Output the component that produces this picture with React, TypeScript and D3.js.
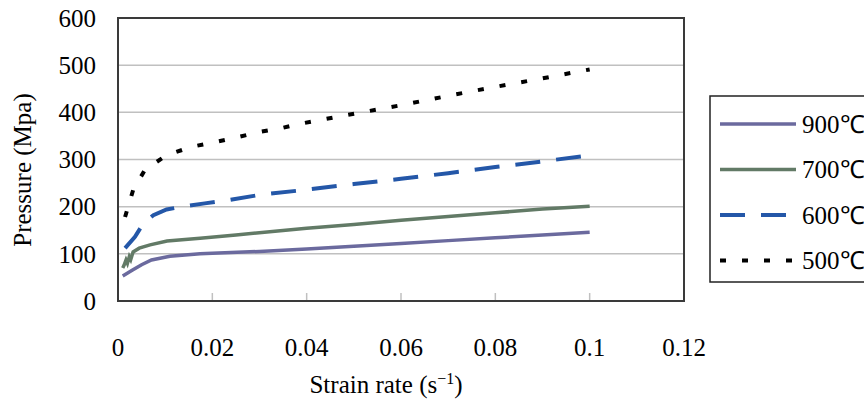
import React from "react";
import * as d3 from "d3";

const xTicks = [0, 0.02, 0.04, 0.06, 0.08, 0.1, 0.12];
const yTicks = [0, 100, 200, 300, 400, 500, 600];

const s900: [number, number][] = [
  [0.001, 53], [0.003, 65], [0.005, 77], [0.0071, 87], [0.011, 95], [0.0174, 100],
  [0.02, 101], [0.03, 105], [0.04, 110], [0.05, 116], [0.06, 122], [0.07, 128],
  [0.08, 134], [0.09, 140], [0.1, 146],
];
const s700: [number, number][] = [
  [0.001, 70], [0.0013, 76], [0.0017, 87], [0.002, 80], [0.0024, 94], [0.0027, 88],
  [0.0032, 104], [0.0045, 112], [0.0068, 119], [0.0104, 127], [0.0174, 133],
  [0.025, 140], [0.0344, 149], [0.04, 154], [0.05, 162], [0.06, 171], [0.07, 179],
  [0.08, 187], [0.09, 195], [0.1, 201],
];
const s600: [number, number][] = [
  [0.0015, 112], [0.0036, 136], [0.0054, 165], [0.0075, 182], [0.0103, 194],
  [0.0142, 201], [0.0184, 207], [0.023, 213], [0.03, 225], [0.04, 236], [0.05, 248],
  [0.06, 259], [0.07, 271], [0.08, 284], [0.09, 296], [0.1, 309],
];
const s500: [number, number][] = [
  [0.0015, 178], [0.002, 195], [0.0032, 235], [0.0057, 278], [0.0103, 309],
  [0.0156, 327], [0.0202, 336], [0.0252, 347], [0.0298, 358], [0.0344, 366],
  [0.0382, 375], [0.0483, 394], [0.06, 415], [0.0715, 438], [0.08, 454],
  [0.09, 472], [0.1, 491],
];

const seriesNames = ["900℃", "700℃", "600℃", "500℃"];
const seriesData = [s900, s700, s600, s500];
const seriesColors = ["#6b6a9e", "#627a66", "#2457a8", "#000000"];
const seriesDash = ["", "", "25 16", "6 16"];
const seriesWidth = [3.5, 3.5, 4, 4];

export default function App() {
  const W = 864, H = 403;
  const x = d3.scaleLinear().domain([0, 0.12]).range([118, 684]);
  const y = d3.scaleLinear().domain([0, 600]).range([301, 18]);
  const line = d3.line<[number, number]>().x(d => x(d[0])).y(d => y(d[1]));
  const font = "'Liberation Serif', 'Times New Roman', serif";

  return (
    <svg width={W} height={H} style={{ position: "absolute", left: 0, top: 0, background: "#fff" }}
      fontFamily={font}>
      <rect x={0} y={0} width={W} height={H} fill="#fff" />
      {/* gridlines */}
      {yTicks.filter(t => t > 0 && t < 600).map(t => (
        <line key={t} x1={x(0)} x2={x(0.12)} y1={y(t)} y2={y(t)} stroke="#c0c0c0" strokeWidth={1.5} />
      ))}
      {/* x ticks */}
      {xTicks.filter(t => t > 0 && t < 0.12).map(t => (
        <line key={t} x1={x(t)} x2={x(t)} y1={y(0)} y2={y(0) - 8} stroke="#c0c0c0" strokeWidth={1.5} />
      ))}
      {/* plot border */}
      <rect x={x(0)} y={y(600)} width={x(0.12) - x(0)} height={y(0) - y(600)} fill="none"
        stroke="#3a3a3a" strokeWidth={2} />
      {/* series */}
      {seriesData.map((d, i) => (
        <path key={i} d={line(d) || ""} fill="none" stroke={seriesColors[i]}
          strokeWidth={seriesWidth[i]} strokeDasharray={seriesDash[i]} />
      ))}
      {/* y tick labels */}
      {yTicks.map(t => (
        <text key={t} x={96} y={y(t)} dy="0.35em" textAnchor="end" fontSize={25} fill="#000">{t}</text>
      ))}
      {/* x tick labels */}
      {xTicks.map(t => (
        <text key={t} x={x(t)} y={356} textAnchor="middle" fontSize={25} fill="#000">{String(t)}</text>
      ))}
      {/* axis titles */}
      <text x={386} y={393} textAnchor="middle" fontSize={25} fill="#000">
        Strain rate (s<tspan dy={-9} fontSize={16}>−1</tspan><tspan dy={9}>)</tspan>
      </text>
      <text transform={`translate(31,${170}) rotate(-90)`} textAnchor="middle" fontSize={25} fill="#000">
        Pressure (Mpa)
      </text>
      {/* legend */}
      <rect x={710} y={96} width={170} height={186} fill="#fff" stroke="#222" strokeWidth={1.5} />
      {seriesNames.map((n, i) => {
        const ly = 124 + i * 45.5;
        return (
          <g key={n}>
            <line x1={720} x2={796} y1={ly} y2={ly} stroke={seriesColors[i]}
              strokeWidth={seriesWidth[i]} strokeDasharray={seriesDash[i]} />
            <text x={802} y={ly} dy="0.35em" fontSize={25} fill="#000">{n}</text>
          </g>
        );
      })}
    </svg>
  );
}
